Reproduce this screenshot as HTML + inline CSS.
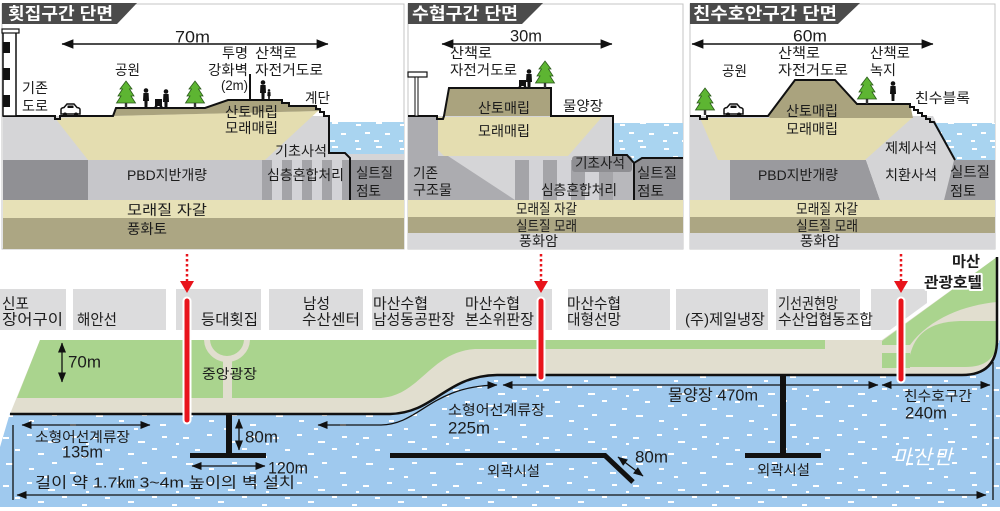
<!DOCTYPE html>
<html><head><meta charset="utf-8">
<style>
html,body{margin:0;padding:0;background:#fff;}
svg{display:block;}
text{font-family:"Liberation Sans","Noto Sans CJK KR",sans-serif;fill:#1c1c1c;dominant-baseline:central;}
.w{fill:#fff;font-weight:bold;}
.halo{stroke:#fff;stroke-width:4;paint-order:stroke;stroke-linejoin:round;}
</style></head><body>
<svg width="1000" height="511" viewBox="0 0 1000 511" xmlns="http://www.w3.org/2000/svg">
<defs>
<pattern id="wd" width="90" height="48" patternUnits="userSpaceOnUse">
<rect width="90" height="48" fill="#9fc9ee"/>
<g fill="#fff">
<rect x="3" y="5" width="6" height="2"/><rect x="27" y="2" width="5" height="2"/><rect x="48" y="9" width="7" height="2"/><rect x="72" y="4" width="5" height="2"/>
<rect x="15" y="17" width="5" height="2"/><rect x="38" y="21" width="6" height="2"/><rect x="62" y="16" width="5" height="2"/><rect x="82" y="24" width="5" height="2"/>
<rect x="6" y="31" width="7" height="2"/><rect x="29" y="36" width="5" height="2"/><rect x="52" y="30" width="5" height="2"/><rect x="70" y="40" width="6" height="2"/>
<rect x="44" y="44" width="4" height="2"/><rect x="86" y="11" width="3" height="2"/>
</g>
</pattern>
<pattern id="sd" width="44" height="24" patternUnits="userSpaceOnUse">
<rect width="44" height="24" fill="#a9d4f0"/>
<g fill="#fff">
<rect x="4" y="4" width="5" height="2"/><rect x="24" y="2" width="6" height="2"/><rect x="13" y="12" width="5" height="2"/><rect x="33" y="13" width="5" height="2"/><rect x="3" y="20" width="4" height="2"/><rect x="22" y="20" width="5" height="2"/>
</g>
</pattern>
<marker id="m1" viewBox="0 0 10 8" refX="9.5" refY="4" markerWidth="10" markerHeight="8" markerUnits="userSpaceOnUse" orient="auto-start-reverse"><path d="M0,0 L10,4 L0,8 Z" fill="#111"/></marker>
<marker id="m2" viewBox="0 0 10 8" refX="9.5" refY="4" markerWidth="12" markerHeight="10" markerUnits="userSpaceOnUse" orient="auto-start-reverse"><path d="M0,0 L10,4 L0,8 Z" fill="#111"/></marker>
<g id="tr">
<polygon points="0,0 6,8 3.5,8 8,15 5,15 9.5,22 -9.5,22 -5,15 -8,15 -3.5,8 -6,8" fill="#5db532" stroke="#2b5a1b" stroke-width="0.8"/>
<rect x="-1.2" y="22" width="2.4" height="5" fill="#333"/>
</g>
<g id="pp">
<circle cx="0" cy="2.5" r="2.3" fill="#111"/>
<path d="M-2.6,5 H2.6 L3,13 H1.6 L1.4,20 H-1.4 L-1.6,13 H-3 Z" fill="#111"/>
</g>
<g id="car">
<path d="M0,10 V5.5 Q0,4 3,3.5 L6,0 H13 L16,3.5 Q19,4 19,5.5 V10 Z" fill="#fff" stroke="#111" stroke-width="1.5"/>
<rect x="6.5" y="1.5" width="6" height="2.5" fill="#111"/>
<circle cx="4" cy="10.5" r="2" fill="#111"/><circle cx="15" cy="10.5" r="2" fill="#111"/>
</g>
<clipPath id="landclip"><rect x="0" y="340" width="1000" height="80"/></clipPath>
</defs>

<!-- ================= PANEL 1 ================= -->
<rect x="2" y="4" width="402" height="245" fill="#fff" stroke="#c4c4c4"/>
<rect x="3" y="116" width="326" height="44" fill="#d5d5d7"/>
<rect x="329" y="154" width="75" height="6" fill="#d5d5d7"/>
<rect x="329" y="122" width="75" height="32" fill="url(#sd)"/>
<polygon points="55,118 113,116 318,111 265,160 88,160" fill="#e4ddb0"/>
<polygon points="113,116 116,108 205,108 228,100 282,100 283,103 289,103 289,106 316,106 320,111 113,116" fill="#aaa37e"/>
<rect x="3" y="160" width="85" height="40" fill="#909094"/>
<rect x="88" y="160" width="174" height="40" fill="#c6c6ca"/>
<rect x="262" y="160" width="88" height="40" fill="#d3d3d7"/>
<g fill="#a4a4a8"><rect x="262" y="160" width="10" height="40"/><rect x="282" y="160" width="10" height="40"/><rect x="302" y="160" width="10" height="40"/><rect x="322" y="160" width="10" height="40"/><rect x="342" y="160" width="8" height="40"/></g>
<rect x="350" y="160" width="54" height="40" fill="#909094"/>
<rect x="3" y="200" width="401" height="18" fill="#e7e1b7"/>
<rect x="3" y="218" width="401" height="31" fill="#aca683"/>
<path d="M3,116 H55 V119 H60 V116 H113 L116,108 H205 L228,100 H282 V103 H289 V106 H316 V109 H320 V112 H324 V116 H329 V153 H345 L350,158 V200" fill="none" stroke="#111" stroke-width="2"/>
<rect x="3" y="32" width="13" height="84" fill="#fff" stroke="#111" stroke-width="1.5"/>
<rect x="2" y="29" width="17" height="4" fill="#fff" stroke="#111" stroke-width="1.2"/>
<rect x="3" y="42" width="7" height="11" fill="#111"/><rect x="3" y="68" width="7" height="12" fill="#111"/><rect x="3" y="95" width="7" height="12" fill="#111"/>
<use href="#car" x="61" y="104"/>
<use href="#tr" x="126" y="81"/><use href="#tr" x="195" y="81"/>
<use href="#pp" x="146" y="88"/>
<use href="#pp" x="166" y="89"/>
<path d="M155,99 H162 V106 H155 Z" fill="#111"/><circle cx="156" cy="107" r="1.5" fill="#111"/><circle cx="161" cy="107" r="1.5" fill="#111"/>
<use href="#pp" x="263" y="80"/>
<g transform="translate(269,89) scale(0.55)"><use href="#pp"/></g>
<line x1="250" y1="74" x2="250" y2="100" stroke="#111" stroke-width="2"/>
<line x1="62" y1="44" x2="328" y2="44" stroke="#111" stroke-width="1.6" marker-start="url(#m2)" marker-end="url(#m2)"/>
<polygon points="2,3 137,3 117,24 2,24" fill="#4b4b4b"/>
<text class="w" x="8" y="14" font-size="17" textLength="105" lengthAdjust="spacingAndGlyphs">횟집구간 단면</text>
<text x="175" y="37" font-size="17" textLength="35" lengthAdjust="spacingAndGlyphs">70m</text>
<text x="22" y="88" font-size="14" textLength="26" lengthAdjust="spacingAndGlyphs">기존</text>
<text x="22" y="106" font-size="14" textLength="26" lengthAdjust="spacingAndGlyphs">도로</text>
<text x="115" y="70" font-size="14" textLength="25" lengthAdjust="spacingAndGlyphs">공원</text>
<text x="222" y="53" font-size="14" textLength="26" lengthAdjust="spacingAndGlyphs">투명</text>
<text x="208" y="70" font-size="14" textLength="40" lengthAdjust="spacingAndGlyphs">강화벽</text>
<text x="221" y="85" font-size="14" textLength="27" lengthAdjust="spacingAndGlyphs">(2m)</text>
<text x="255" y="53" font-size="14" textLength="42" lengthAdjust="spacingAndGlyphs">산책로</text>
<text x="255" y="70" font-size="14" textLength="68" lengthAdjust="spacingAndGlyphs">자전거도로</text>
<text x="305" y="98" font-size="14" textLength="25" lengthAdjust="spacingAndGlyphs">계단</text>
<text x="225" y="112" font-size="14" textLength="53" lengthAdjust="spacingAndGlyphs">산토매립</text>
<text x="225" y="128" font-size="14" textLength="53" lengthAdjust="spacingAndGlyphs">모래매립</text>
<text x="275" y="151" font-size="14" textLength="52" lengthAdjust="spacingAndGlyphs">기초사석</text>
<text x="127" y="175" font-size="14" textLength="80" lengthAdjust="spacingAndGlyphs">PBD지반개량</text>
<text x="267" y="175" font-size="14" textLength="77" lengthAdjust="spacingAndGlyphs">심층혼합처리</text>
<text x="356" y="173" font-size="14" textLength="37" lengthAdjust="spacingAndGlyphs">실트질</text>
<text x="356" y="191" font-size="14" textLength="25" lengthAdjust="spacingAndGlyphs">점토</text>
<text x="127" y="210" font-size="14" textLength="80" lengthAdjust="spacingAndGlyphs">모래질 자갈</text>
<text x="127" y="229" font-size="14" textLength="40" lengthAdjust="spacingAndGlyphs">풍화토</text>

<!-- ================= PANEL 2 ================= -->
<rect x="408" y="4" width="275" height="245" fill="#fff" stroke="#c4c4c4"/>
<rect x="408" y="116" width="205" height="84" fill="#d5d5d7"/>
<polygon points="408,116 438,116 438,156 448,156 515,200 408,200" fill="#acacb0"/>
<rect x="515" y="160" width="105" height="40" fill="#d3d3d7"/>
<g fill="#a4a4a8"><rect x="515" y="160" width="14" height="40"/><rect x="543" y="160" width="14" height="40"/><rect x="571" y="160" width="14" height="40"/><rect x="599" y="160" width="14" height="40"/></g>
<rect x="613" y="155" width="20" height="45" fill="#b8b8bc"/>
<polygon points="438,117 602,117 568,156 444,156 438,150" fill="#e4ddb0"/>
<polygon points="443,116 449,88 551,88 551,116" fill="#aaa37e"/>
<polygon points="613,123 683,123 683,158 642,158 634,164 627,155 613,155" fill="url(#sd)"/>
<rect x="572" y="156" width="60" height="16" rx="3" fill="#8e8e92"/>
<polygon points="634,164 642,159 683,159 683,200 634,200" fill="#909094"/>
<rect x="408" y="200" width="275" height="17" fill="#e7e1b7"/>
<rect x="408" y="217" width="275" height="16" fill="#aca683"/>
<rect x="408" y="233" width="275" height="16" fill="#d8d8da"/>
<path d="M408,116 H437 V119 H443 L444,116 L449,88 H551 V116 H613 V155 H627 L634,163 L642,158 H683 M634,163 V200" fill="none" stroke="#111" stroke-width="2"/>
<rect x="408" y="72" width="19" height="5" fill="#fff" stroke="#111" stroke-width="1.2"/>
<rect x="415" y="77" width="3" height="39" fill="#fff" stroke="#111" stroke-width="1"/>
<use href="#tr" x="545" y="61"/>
<use href="#pp" x="529" y="69"/>
<path d="M519,80 H526 V86 H519 Z" fill="#111"/><circle cx="520" cy="87" r="1.4" fill="#111"/><circle cx="525" cy="87" r="1.4" fill="#111"/>
<line x1="442" y1="44" x2="612" y2="44" stroke="#111" stroke-width="1.6" marker-start="url(#m2)" marker-end="url(#m2)"/>
<polygon points="408,3 543,3 522,24 408,24" fill="#4b4b4b"/>
<text class="w" x="412" y="14" font-size="17" textLength="106" lengthAdjust="spacingAndGlyphs">수협구간 단면</text>
<text x="510" y="36" font-size="17" textLength="32" lengthAdjust="spacingAndGlyphs">30m</text>
<text x="450" y="53" font-size="14" textLength="42" lengthAdjust="spacingAndGlyphs">산책로</text>
<text x="450" y="70" font-size="14" textLength="67" lengthAdjust="spacingAndGlyphs">자전거도로</text>
<text x="478" y="108" font-size="14" textLength="52" lengthAdjust="spacingAndGlyphs">산토매립</text>
<text x="563" y="106" font-size="14" textLength="40" lengthAdjust="spacingAndGlyphs">물양장</text>
<text x="478" y="131" font-size="14" textLength="52" lengthAdjust="spacingAndGlyphs">모래매립</text>
<text x="413" y="173" font-size="14" textLength="25" lengthAdjust="spacingAndGlyphs">기존</text>
<text x="413" y="190" font-size="14" textLength="39" lengthAdjust="spacingAndGlyphs">구조물</text>
<text x="575" y="163" font-size="14" textLength="50" lengthAdjust="spacingAndGlyphs">기초사석</text>
<text x="541" y="190" font-size="14" textLength="76" lengthAdjust="spacingAndGlyphs">심층혼합처리</text>
<text x="637" y="173" font-size="14" textLength="40" lengthAdjust="spacingAndGlyphs">실트질</text>
<text x="637" y="191" font-size="14" textLength="27" lengthAdjust="spacingAndGlyphs">점토</text>
<text x="516" y="209" font-size="14" textLength="61" lengthAdjust="spacingAndGlyphs">모래질 자갈</text>
<text x="516" y="226" font-size="14" textLength="61" lengthAdjust="spacingAndGlyphs">실트질 모래</text>
<text x="519" y="241" font-size="14" textLength="39" lengthAdjust="spacingAndGlyphs">풍화암</text>

<!-- ================= PANEL 3 ================= -->
<rect x="690" y="4" width="305" height="245" fill="#fff" stroke="#c4c4c4"/>
<polygon points="690,116 933,116 955,160 690,160" fill="#d5d5d7"/>
<polygon points="933,123 995,123 995,160 955,160" fill="url(#sd)"/>
<polygon points="700,118 912,118 865,160 718,160" fill="#e4ddb0"/>
<polygon points="768,116 795,80 835,80 857,104 910,104 913,118 770,118" fill="#aaa37e"/>
<rect x="690" y="160" width="40" height="40" fill="#d4d4d6"/>
<polygon points="730,160 866,160 880,200 730,200" fill="#9a9a9e"/>
<polygon points="866,160 954,160 944,200 880,200" fill="#d4d4d6"/>
<polygon points="954,160 995,160 995,200 944,200" fill="#9a9a9e"/>
<rect x="690" y="200" width="305" height="17" fill="#e7e1b7"/>
<rect x="690" y="217" width="305" height="16" fill="#aca683"/>
<rect x="690" y="233" width="305" height="16" fill="#d8d8da"/>
<path d="M690,116 H700 V119 H707 V116 H768 L795,80 H835 L857,104 H910 V107 H914 V110 H918 V113 H922 V116 H926 V119 H930 V122 H934 L955,160" fill="none" stroke="#111" stroke-width="2"/>
<use href="#tr" x="705" y="88"/>
<use href="#car" x="724" y="104"/>
<use href="#tr" x="867" y="77"/>
<use href="#pp" x="893" y="81"/>
<line x1="692" y1="44" x2="933" y2="44" stroke="#111" stroke-width="1.6" marker-start="url(#m2)" marker-end="url(#m2)"/>
<polygon points="690,3 860,3 838,24 690,24" fill="#4b4b4b"/>
<text class="w" x="693" y="14" font-size="17" textLength="144" lengthAdjust="spacingAndGlyphs">친수호안구간 단면</text>
<text x="793" y="36" font-size="17" textLength="34" lengthAdjust="spacingAndGlyphs">60m</text>
<text x="722" y="71" font-size="14" textLength="25" lengthAdjust="spacingAndGlyphs">공원</text>
<text x="778" y="53" font-size="14" textLength="42" lengthAdjust="spacingAndGlyphs">산책로</text>
<text x="778" y="70" font-size="14" textLength="70" lengthAdjust="spacingAndGlyphs">자전거도로</text>
<text x="870" y="53" font-size="14" textLength="40" lengthAdjust="spacingAndGlyphs">산책로</text>
<text x="870" y="70" font-size="14" textLength="26" lengthAdjust="spacingAndGlyphs">녹지</text>
<text x="915" y="98" font-size="14" textLength="55" lengthAdjust="spacingAndGlyphs">친수블록</text>
<text x="786" y="111" font-size="14" textLength="52" lengthAdjust="spacingAndGlyphs">산토매립</text>
<text x="786" y="129" font-size="14" textLength="52" lengthAdjust="spacingAndGlyphs">모래매립</text>
<text x="885" y="148" font-size="14" textLength="52" lengthAdjust="spacingAndGlyphs">제체사석</text>
<text x="758" y="175" font-size="14" textLength="80" lengthAdjust="spacingAndGlyphs">PBD지반개량</text>
<text x="885" y="175" font-size="14" textLength="52" lengthAdjust="spacingAndGlyphs">치환사석</text>
<text x="950" y="172" font-size="14" textLength="40" lengthAdjust="spacingAndGlyphs">실트질</text>
<text x="950" y="191" font-size="14" textLength="26" lengthAdjust="spacingAndGlyphs">점토</text>
<text x="796" y="209" font-size="14" textLength="62" lengthAdjust="spacingAndGlyphs">모래질 자갈</text>
<text x="796" y="226" font-size="14" textLength="62" lengthAdjust="spacingAndGlyphs">실트질 모래</text>
<text x="800" y="241" font-size="14" textLength="40" lengthAdjust="spacingAndGlyphs">풍화암</text>

<!-- ================= BUILDING LABEL BOXES ================= -->
<g fill="#dcdcdd">
<rect x="0" y="289" width="66" height="41"/>
<rect x="73" y="289" width="93" height="41"/>
<rect x="176" y="289" width="85" height="41"/>
<rect x="269" y="289" width="94" height="41"/>
<rect x="372" y="289" width="180" height="41"/>
<rect x="568" y="289" width="102" height="41"/>
<rect x="676" y="289" width="92" height="41"/>
<rect x="776" y="289" width="84" height="41"/>
<polygon points="871,289 927,289 927,303 890,330 871,330"/>
</g>
<text x="2" y="304" font-size="15" textLength="27" lengthAdjust="spacingAndGlyphs">신포</text>
<text x="2" y="320" font-size="15" textLength="61" lengthAdjust="spacingAndGlyphs">장어구이</text>
<text x="77" y="320" font-size="15" textLength="40" lengthAdjust="spacingAndGlyphs">해안선</text>
<text x="201" y="320" font-size="15" textLength="57" lengthAdjust="spacingAndGlyphs">등대횟집</text>
<text x="303" y="304" font-size="15" textLength="27" lengthAdjust="spacingAndGlyphs">남성</text>
<text x="302" y="320" font-size="15" textLength="58" lengthAdjust="spacingAndGlyphs">수산센터</text>
<text x="373" y="304" font-size="15" textLength="55" lengthAdjust="spacingAndGlyphs">마산수협</text>
<text x="373" y="320" font-size="15" textLength="82" lengthAdjust="spacingAndGlyphs">남성동공판장</text>
<text x="465" y="304" font-size="15" textLength="55" lengthAdjust="spacingAndGlyphs">마산수협</text>
<text x="465" y="320" font-size="15" textLength="69" lengthAdjust="spacingAndGlyphs">본소위판장</text>
<text x="567" y="304" font-size="15" textLength="54" lengthAdjust="spacingAndGlyphs">마산수협</text>
<text x="567" y="320" font-size="15" textLength="54" lengthAdjust="spacingAndGlyphs">대형선망</text>
<text x="685" y="320" font-size="15" textLength="80" lengthAdjust="spacingAndGlyphs">(주)제일냉장</text>
<text x="778" y="304" font-size="15" textLength="60" lengthAdjust="spacingAndGlyphs">기선권현망</text>
<text x="778" y="320" font-size="15" textLength="95" lengthAdjust="spacingAndGlyphs">수산업협동조합</text>

<!-- ================= MAP ================= -->
<path d="M10,413 H390 L430,400 L480,372 H962 L1000,340 V507 H0 V447 Z" fill="url(#wd)"/>
<path d="M40,340 H882 L997,257 V340 Q997,375 962,375 H497 C445,376 435,413 390,414 H10 Z" fill="#e1decf"/>
<path d="M40,340 H825 V349 H475 C430,352 420,396 380,398 H17 Z" fill="#aad48e"/>
<path d="M882,341 L997,257 V302 C965,305 930,318 910,345 H882 Z" fill="#aad48e"/>
<path d="M910,355 C915,335 928,322 960,321 H997 V342 Q995,367 965,367 H910 Z" fill="#aad48e"/>
<rect x="882" y="353" width="28" height="15" fill="#aad48e"/>
<g clip-path="url(#landclip)">
<circle cx="227" cy="339" r="20" fill="#aad48e" stroke="#e1decf" stroke-width="6"/>
</g>
<rect x="223" y="360" width="9" height="38" fill="#e1decf"/>
<path d="M10,414 H390 C435,413 445,376 497,375 H962 Q997,375 997,340 V257" fill="none" stroke="#111" stroke-width="2.5"/>

<text class="halo" x="952" y="262" font-size="15" font-weight="bold" textLength="28" lengthAdjust="spacingAndGlyphs">마산</text>
<text class="halo" x="924" y="283" font-size="15" font-weight="bold" textLength="58" lengthAdjust="spacingAndGlyphs">관광호텔</text>

<rect x="226" y="414" width="6" height="42" fill="#111"/>
<rect x="190" y="453" width="76" height="5" fill="#111"/>
<rect x="780" y="375" width="6" height="81" fill="#111"/>
<rect x="745" y="453" width="76" height="5" fill="#111"/>
<path d="M390,455.5 H605 L633,482" stroke="#111" stroke-width="5" fill="none"/>

<g stroke="#111" stroke-width="1.3" fill="none">
<line x1="62" y1="343" x2="62" y2="382" marker-start="url(#m1)" marker-end="url(#m1)"/>
<line x1="239" y1="419" x2="239" y2="450" marker-start="url(#m1)" marker-end="url(#m1)"/>
<line x1="192" y1="466" x2="265" y2="466" marker-start="url(#m1)" marker-end="url(#m1)"/>
<line x1="22" y1="425" x2="150" y2="425" marker-start="url(#m1)" marker-end="url(#m1)"/>
<path d="M318,425 H380 C420,425 430,386 497,385" marker-start="url(#m1)" marker-end="url(#m1)"/>
<line x1="503" y1="385" x2="878" y2="385" marker-start="url(#m1)" marker-end="url(#m1)"/>
<line x1="882" y1="385" x2="990" y2="385" marker-start="url(#m1)" marker-end="url(#m1)"/>
<line x1="618" y1="457" x2="643" y2="476" marker-start="url(#m1)" marker-end="url(#m1)"/>
<line x1="17" y1="495" x2="986" y2="495" marker-start="url(#m1)" marker-end="url(#m1)"/>
<line x1="13" y1="425" x2="13" y2="500"/>
<line x1="993" y1="362" x2="993" y2="500"/>
</g>

<text x="68" y="362" font-size="17" textLength="33" lengthAdjust="spacingAndGlyphs">70m</text>
<text x="202" y="374" font-size="14" textLength="55" lengthAdjust="spacingAndGlyphs">중앙광장</text>
<text x="35" y="437" font-size="14" textLength="95" lengthAdjust="spacingAndGlyphs">소형어선계류장</text>
<text x="62" y="452" font-size="17" textLength="41" lengthAdjust="spacingAndGlyphs">135m</text>
<text x="245" y="437" font-size="17" textLength="33" lengthAdjust="spacingAndGlyphs">80m</text>
<text x="268" y="468" font-size="17" textLength="40" lengthAdjust="spacingAndGlyphs">120m</text>
<text x="35" y="483" font-size="15" textLength="260" lengthAdjust="spacingAndGlyphs">길이 약 1.7㎞ 3~4m 높이의 벽 설치</text>
<text x="448" y="410" font-size="14" textLength="97" lengthAdjust="spacingAndGlyphs">소형어선계류장</text>
<text x="448" y="428" font-size="17" textLength="42" lengthAdjust="spacingAndGlyphs">225m</text>
<text x="668" y="396" font-size="16" textLength="90" lengthAdjust="spacingAndGlyphs">물양장 470m</text>
<text x="487" y="471" font-size="14" textLength="53" lengthAdjust="spacingAndGlyphs">외곽시설</text>
<text x="635" y="457" font-size="17" textLength="33" lengthAdjust="spacingAndGlyphs">80m</text>
<text x="757" y="470" font-size="14" textLength="53" lengthAdjust="spacingAndGlyphs">외곽시설</text>
<text x="904" y="396" font-size="14" textLength="68" lengthAdjust="spacingAndGlyphs">친수호구간</text>
<text x="905" y="413" font-size="17" textLength="42" lengthAdjust="spacingAndGlyphs">240m</text>
<text x="893" y="458" font-size="20" font-style="italic" letter-spacing="2" style="fill:#fff">마산만</text>

<g stroke="#e8141c" stroke-width="2.5" stroke-dasharray="2.5,2.5">
<line x1="187" y1="254" x2="187" y2="281"/>
<line x1="541" y1="254" x2="541" y2="281"/>
<line x1="901" y1="254" x2="901" y2="281"/>
</g>
<g fill="#e8141c">
<polygon points="180,281 194,281 187,293"/>
<polygon points="534,281 548,281 541,293"/>
<polygon points="894,281 908,281 901,293"/>
</g>
<g stroke="#fff" stroke-width="9" stroke-linecap="round">
<line x1="187" y1="301" x2="187" y2="420"/>
<line x1="541" y1="301" x2="541" y2="377"/>
<line x1="901" y1="301" x2="901" y2="379"/>
</g>
<g stroke="#e8141c" stroke-width="5" stroke-linecap="round">
<line x1="187" y1="301" x2="187" y2="420"/>
<line x1="541" y1="301" x2="541" y2="377"/>
<line x1="901" y1="301" x2="901" y2="379"/>
</g>
</svg>
</body></html>
